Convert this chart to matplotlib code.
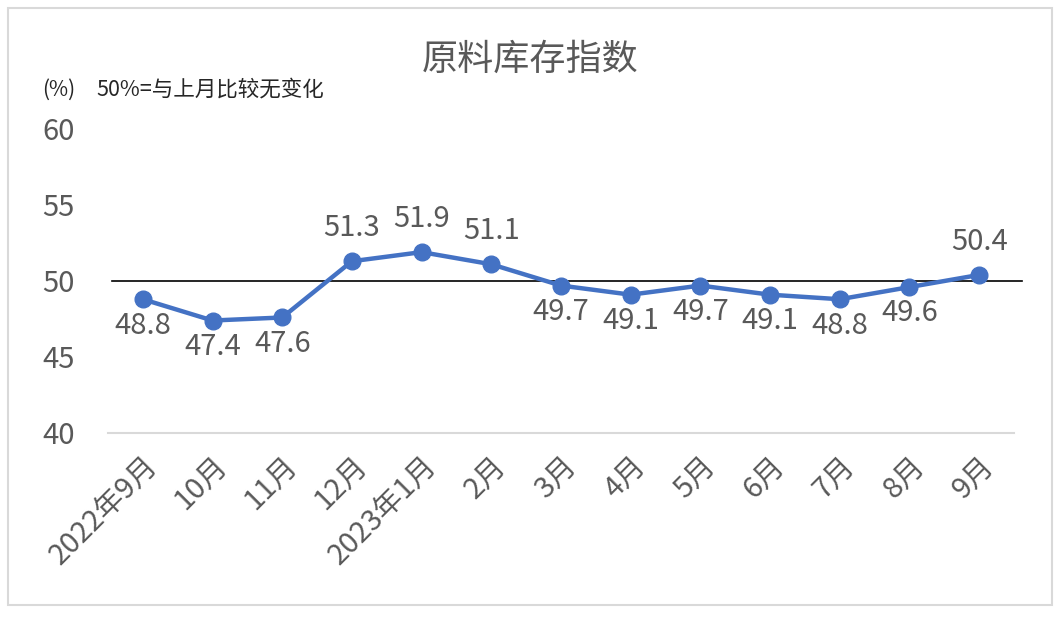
import matplotlib
matplotlib.use('Agg')
import matplotlib.pyplot as plt
from matplotlib.patches import Rectangle

plt.rcParams['font.family'] = ['Noto Sans CJK SC', 'DejaVu Sans']

months = ['2022年9月', '10月', '11月', '12月', '2023年1月', '2月', '3月',
          '4月', '5月', '6月', '7月', '8月', '9月']
values = [48.8, 47.4, 47.6, 51.3, 51.9, 51.1, 49.7, 49.1, 49.7, 49.1, 48.8, 49.6, 50.4]

fig = plt.figure(figsize=(10.63, 6.21), dpi=100)
ax = fig.add_axes([108 / 1063, 1 - 433 / 621, (1014 - 108) / 1063, (433 - 129) / 621])

x = list(range(len(values)))
ax.plot(x, values, color='#4472C4', lw=3.2, marker='o', ms=12, zorder=3)

# 50% line
ax.axhline(50, xmin=0.004, xmax=1.009, color='black', lw=1.2, clip_on=False, zorder=2)

for a, b in zip(x, values):
    dy = 24 if b > 50 else -19
    ax.annotate(f'{b:.1f}', (a, b), xytext=(0, dy), textcoords='offset points',
                ha='center', va='center', fontsize=21, color='#595959')

ax.set_ylim(40, 60)
ax.set_xlim(-0.5, len(values) - 0.5)
ax.set_yticks([40, 45, 50, 55, 60])
ax.set_xticks(x)
ax.set_xticklabels(months, rotation=45, ha='right', rotation_mode='anchor')
ax.tick_params(axis='y', length=0, labelsize=21, labelcolor='#595959', pad=24)
ax.tick_params(axis='x', length=0, labelsize=21, labelcolor='#595959', pad=13)

for s in ['top', 'right', 'left']:
    ax.spines[s].set_visible(False)
ax.spines['bottom'].set_color('#D9D9D9')
ax.spines['bottom'].set_linewidth(1.5)

fig.text(530 / 1063, 1 - 60 / 621, '原料库存指数', ha='center', va='center',
         fontsize=26, color='#595959')
fig.text(42 / 1063, 1 - 90 / 621, '(%)', ha='left', va='center',
         fontsize=15, color='#262626')
fig.text(96 / 1063, 1 - 90 / 621, '50%=与上月比较无变化', ha='left', va='center',
         fontsize=15.5, color='#262626')

fig.patches.append(Rectangle((8 / 1063, 1 - 605 / 621), (1052 - 8) / 1063, (605 - 8) / 621,
                             transform=fig.transFigure, fill=False,
                             edgecolor='#D9D9D9', lw=1.5))

fig.savefig('out.png', dpi=100)
